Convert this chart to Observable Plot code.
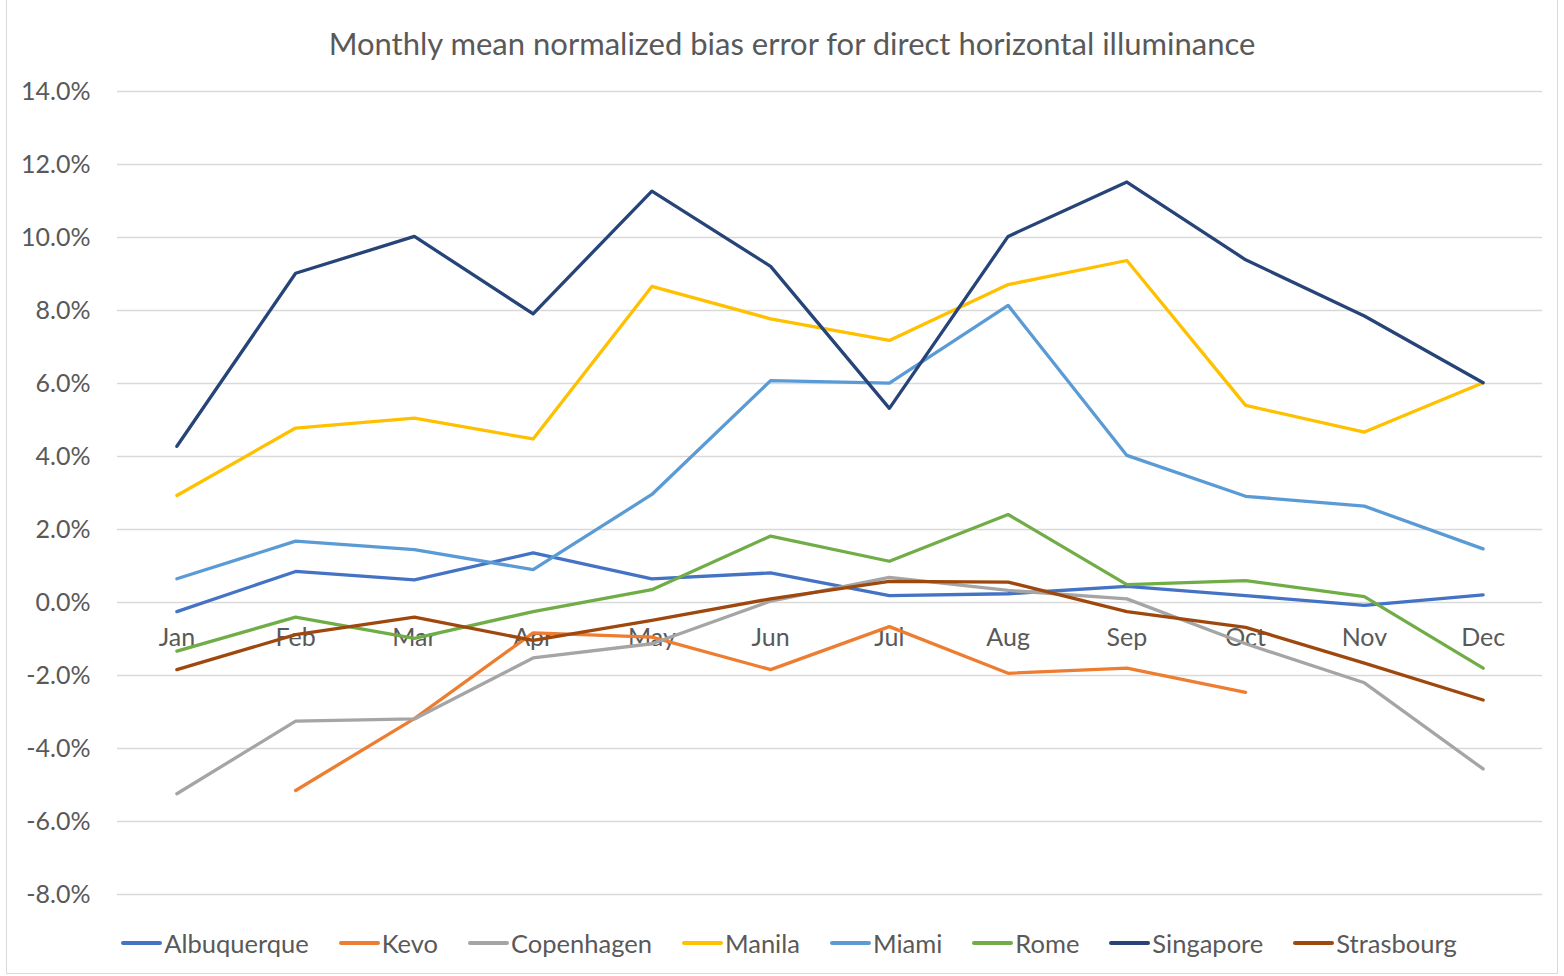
<!DOCTYPE html>
<html>
<head>
<meta charset="utf-8">
<script src="https://cdn.jsdelivr.net/npm/d3@7"></script>
<script src="https://cdn.jsdelivr.net/npm/@observablehq/plot@0.6"></script>
<style>
  html, body { margin: 0; padding: 0; background: #fff; }
  body { width: 1564px; height: 976px; overflow: hidden; font-family: Lato, "Open Sans", sans-serif; color: #595959; position: relative; }
  #frame { position: absolute; left: 6px; top: 0; width: 1552px; height: 974px; border: 1px solid #d9d9d9; border-top: none; box-sizing: border-box; }
  #title { position: relative; height: 70px; text-align: center; font-size: 31px; line-height: 86px; padding-left: 20px; }
  #chart { position: relative; height: 840px; }
  #legend { position: absolute; left: 0; top: 925px; height: 36px; display: flex; align-items: center; font-size: 25.5px; }
  .item { position: absolute; display: flex; align-items: center; white-space: nowrap; top: 0; height: 36px; }
  .sw { display: inline-block; width: 41px; height: 4px; border-radius: 2px; margin-right: 2px; }
</style>
</head>
<body>
<div id="frame"></div>
<div id="title">Monthly mean normalized bias error for direct horizontal illuminance</div>
<div id="chart"></div>
<div id="legend"></div>
<script>
const months = ["Jan","Feb","Mar","Apr","May","Jun","Jul","Aug","Sep","Oct","Nov","Dec"];
const cities = ["Albuquerque","Kevo","Copenhagen","Manila","Miami","Rome","Singapore","Strasbourg"];
const colors = ["#4472C4","#ED7D31","#A5A5A5","#FFC000","#5B9BD5","#70AD47","#264478","#9E480E"];
const yTicks = [-8,-6,-4,-2,0,2,4,6,8,10,12,14];

const albuquerque = [-0.25, 0.85, 0.62, 1.36, 0.65, 0.81, 0.19, 0.24, 0.44, 0.19, -0.08, 0.21];
const kevo        = [null, -5.15, -3.18, -0.83, -0.95, -1.84, -0.66, -1.94, -1.80, -2.46, null, null];
const copenhagen  = [-5.24, -3.25, -3.19, -1.52, -1.13, 0.04, 0.69, 0.33, 0.10, -1.13, -2.20, -4.56];
const manila      = [2.93, 4.78, 5.05, 4.48, 8.66, 7.77, 7.18, 8.71, 9.37, 5.40, 4.67, 6.02];
const miami       = [0.65, 1.68, 1.45, 0.90, 2.96, 6.08, 6.01, 8.14, 4.03, 2.91, 2.64, 1.47];
const rome        = [-1.33, -0.40, -0.98, -0.25, 0.35, 1.82, 1.13, 2.41, 0.49, 0.60, 0.16, -1.80];
const singapore   = [4.28, 9.02, 10.03, 7.91, 11.27, 9.21, 5.32, 10.03, 11.52, 9.39, 7.85, 6.02];
const strasbourg  = [-1.84, -0.88, -0.40, -1.04, -0.49, 0.10, 0.58, 0.56, -0.25, -0.68, -1.66, -2.67];

const series = [albuquerque, kevo, copenhagen, manila, miami, rome, singapore, strasbourg];
const rows = [];
series.forEach((vals, i) => vals.forEach((v, j) => {
  if (v !== null) rows.push({city: cities[i], month: months[j], value: v});
}));

const chart = Plot.plot({
  width: 1564,
  height: 840,
  marginLeft: 117,
  marginRight: 22,
  marginTop: 21,
  marginBottom: 16,
  style: {fontSize: "25px", fontFamily: "Lato, 'Open Sans', sans-serif", color: "#595959", background: "transparent"},
  x: {type: "point", domain: months, padding: 0.5, round: false, axis: null},
  y: {domain: [-8, 14], ticks: yTicks, tickFormat: d => d.toFixed(1) + "%", tickSize: 0, tickPadding: 27, label: null},
  color: {domain: cities, range: colors},
  marks: [
    Plot.ruleY(yTicks, {stroke: "#d9d9d9", strokeWidth: 1.5}),
    Plot.text(months, {x: d => d, y: () => 0, dy: 35, fill: "#595959", fontSize: 25}),
    Plot.line(rows, {x: "month", y: "value", z: "city", stroke: "city", strokeWidth: 3.3, strokeLinejoin: "round", strokeLinecap: "round"})
  ]
});
document.getElementById("chart").appendChild(chart);

// legend: measured flow, starting at x=117 with ~30px gaps between items
const legend = document.getElementById("legend");
const items = cities.map((c, i) => {
  const it = document.createElement("div");
  it.className = "item";
  const sw = document.createElement("span");
  sw.className = "sw";
  sw.style.background = colors[i];
  const lab = document.createElement("span");
  lab.textContent = c;
  it.appendChild(sw);
  it.appendChild(lab);
  legend.appendChild(it);
  return it;
});
let widths = items.map(it => it.getBoundingClientRect().width);
const gap = 30;
const total = d3.sum(widths) + gap * (items.length - 1);
let x = 117 + ((1461 - 117) - total) / 2;
items.forEach((it, i) => { it.style.left = x + "px"; x += widths[i] + gap; });
</script>
</body>
</html>
